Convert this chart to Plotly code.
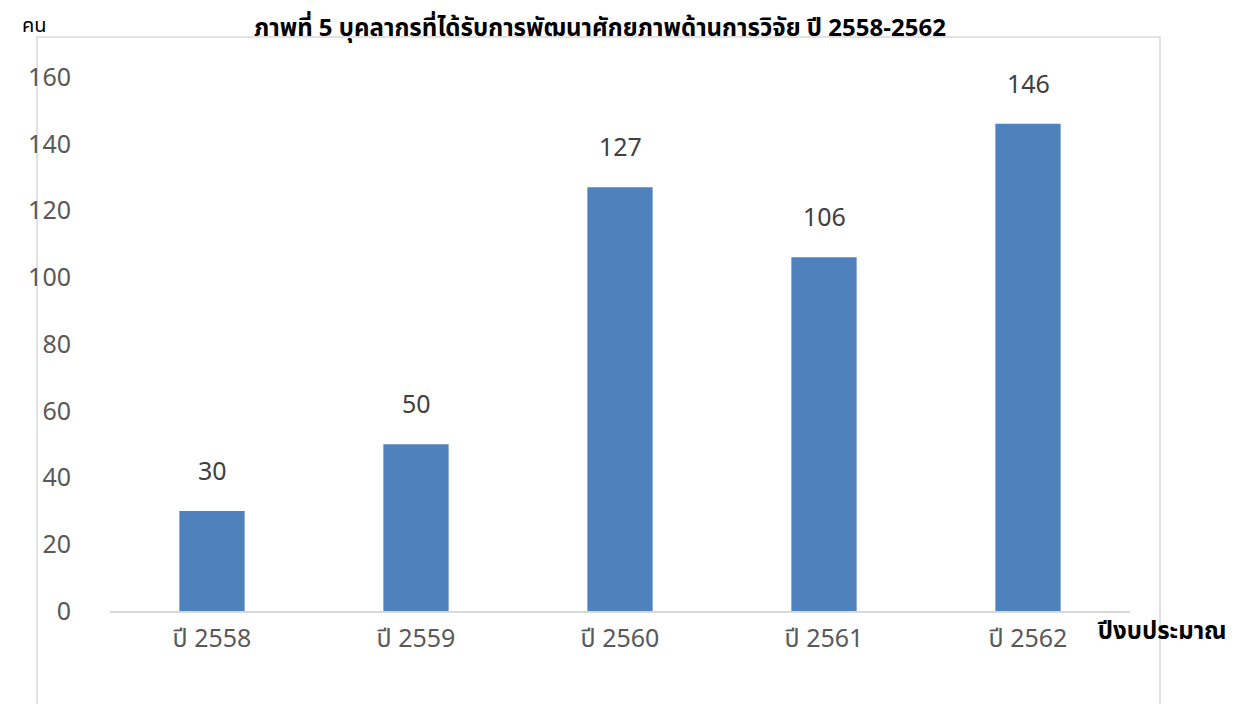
import plotly.graph_objects as go

categories = ["ปี 2558", "ปี 2559", "ปี 2560", "ปี 2561", "ปี 2562"]
values = [30, 50, 127, 106, 146]
y_ticks = [0, 20, 40, 60, 80, 100, 120, 140, 160]

title_text = "ภาพที่ 5 บุคลากรที่ได้รับการพัฒนาศักยภาพด้านการวิจัย ปี 2558-2562"
y_title = "คน"
x_title = "ปีงบประมาณ"

# page is offset by the default 8px body margin
OFF = 8
W, H = 1242 - OFF, 704 - OFF
# plot area in page pixels: x 110..1130, y 77..611
L, T = 110 - OFF, 77 - OFF
R = W - (1130 - OFF)
B = H - (611 - OFF)
pw, ph = W - L - R, H - T - B

def px(x):
    return (x - OFF - L) / pw

def py(y):
    return (H - B - (y - OFF)) / ph

FONT = "Noto Sans Thai, Leelawadee UI, Tahoma, Noto Sans, sans-serif"

fig = go.Figure()
fig.add_trace(go.Bar(
    x=categories, y=values,
    marker=dict(color="#4F81BD", line=dict(width=0)),
    width=0.32,
    hoverinfo="x+y",
))

annotations = []
for c, v in zip(categories, values):
    annotations.append(dict(x=c, y=v, xref="x", yref="y", text=str(v),
                            showarrow=False, yanchor="bottom", yshift=18,
                            font=dict(size=25, color="#404040", family=FONT)))
annotations.append(dict(x=px(600), y=py(9), xref="paper", yref="paper", text="<b>" + title_text + "</b>",
                        showarrow=False, xanchor="center", yanchor="top",
                        font=dict(size=24, color="#000000", family=FONT)))
annotations.append(dict(x=px(20), y=py(9), xref="paper", yref="paper", text=y_title,
                        showarrow=False, xanchor="left", yanchor="top",
                        font=dict(size=20, color="#000000", family=FONT)))
annotations.append(dict(x=px(1095), y=py(632), xref="paper", yref="paper", text="<b>" + x_title + "</b>",
                        showarrow=False, xanchor="left", yanchor="middle",
                        font=dict(size=24, color="#000000", family=FONT)))

fig.update_layout(
    width=W, height=H,
    margin=dict(l=L, r=R, t=T, b=B),
    paper_bgcolor="white", plot_bgcolor="white",
    showlegend=False,
    annotations=annotations,
    shapes=[dict(type="rect", xref="paper", yref="paper",
                 x0=px(37), x1=px(1160), y0=py(720), y1=py(37),
                 line=dict(color="#D9D9D9", width=1.5), fillcolor="rgba(0,0,0,0)", layer="below")],
    xaxis=dict(showgrid=False, showline=True, linecolor="#D9D9D9", linewidth=1.5,
               ticks="", tickfont=dict(size=25, color="#595959", family=FONT),
               ticklabelstandoff=4, fixedrange=True),
    yaxis=dict(range=[0, 160], tickvals=y_ticks, showgrid=False, showline=False,
               zeroline=False, ticks="", tickfont=dict(size=25, color="#595959", family=FONT),
               ticklabelstandoff=38, fixedrange=True),
)

fig.write_html("out.html")
